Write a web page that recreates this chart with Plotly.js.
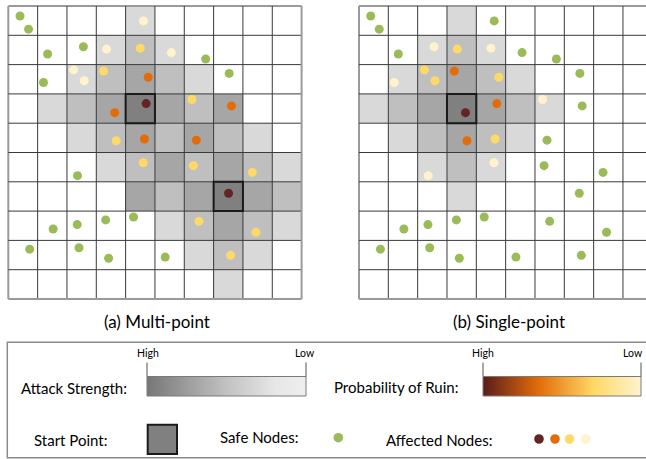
<!DOCTYPE html>
<html>
<head>
<meta charset="utf-8">
<script src="https://cdn.plot.ly/plotly-3.0.1.min.js"></script>
<style>html,body{margin:0;padding:0;background:#fff;}#chart{width:646px;height:459px;}</style>
</head>
<body>
<div id="chart"></div>
<script>
// ---------------- DATA ----------------
const GRID_N = 10;
// attack-strength level per cell (0 none, 1 low, 2 mid, 3 high, 4 start point), rows top->bottom
const shadeMulti = [
  [0,0,0,0,1,0,0,0,0,0],
  [0,0,0,1,2,1,0,0,0,0],
  [0,0,1,2,3,2,1,0,0,0],
  [0,1,2,3,4,3,2,3,0,0],
  [0,0,1,2,3,2,3,2,1,0],
  [0,0,0,1,2,3,2,3,2,1],
  [0,0,0,0,3,2,3,4,3,2],
  [0,0,0,0,0,1,2,3,2,1],
  [0,0,0,0,0,0,1,2,1,0],
  [0,0,0,0,0,0,0,1,0,0]
];
const shadeSingle = [
  [0,0,0,1,0,0,0,0,0,0],
  [0,0,1,2,1,0,0,0,0,0],
  [0,1,2,3,2,1,0,0,0,0],
  [1,2,3,4,3,2,1,0,0,0],
  [0,1,2,3,2,1,0,0,0,0],
  [0,0,1,2,1,0,0,0,0,0],
  [0,0,0,1,0,0,0,0,0,0],
  [0,0,0,0,0,0,0,0,0,0],
  [0,0,0,0,0,0,0,0,0,0],
  [0,0,0,0,0,0,0,0,0,0]
];
// start points [col, row]
const startMulti = [[4,3],[7,6]];
const startSingle = [[3,3]];
// node positions in grid units (same nodes in both panels)
const nodeX = [0.40,0.69,1.34,2.56,1.20,4.61,3.35,4.50,5.56,6.73,7.53,2.23,2.59,3.25,4.77,3.63,4.70,6.26,7.61,3.68,4.64,6.41,2.36,4.60,6.31,8.32,7.51,1.53,2.35,3.32,4.27,6.50,8.44,0.73,2.41,3.42,5.35,7.58];
const nodeY = [0.34,0.79,1.64,1.39,2.61,0.51,1.47,1.44,1.59,1.81,2.30,2.18,2.55,2.22,2.43,3.64,3.33,3.19,3.41,4.60,4.54,4.58,5.79,5.35,5.45,5.68,6.39,7.61,7.46,7.30,7.20,7.35,7.72,8.30,8.25,8.61,8.57,8.51];
// node status: 0 safe, 1..4 affected (probability of ruin high -> low)
const statusMulti  = [0,0,0,0,0,4,4,3,4,0,0,4,4,3,2,2,1,3,2,3,2,2,0,3,3,3,1,0,0,0,0,3,3,0,0,0,0,3];
const statusSingle = [0,0,0,4,4,0,3,4,0,0,0,3,3,2,3,1,2,4,0,2,3,0,4,4,0,0,0,0,0,0,0,0,0,0,0,0,0,0];
const panelTitles = ['(a) Multi-point', '(b) Single-point'];
const legendLabels = ['Attack Strength:', 'Probability of Ruin:', 'Start Point:', 'Safe Nodes:', 'Affected Nodes:'];
const scaleEnds = ['High', 'Low'];

// ---------------- STYLE ----------------
const W = 646, H = 459;
const px = x => x / W;
const py = y => 1 - y / H;
const shadeColors = ['#ffffff', '#d9d9d9', '#bfbfbf', '#a6a6a6', '#808080'];
const nodeColors = ['#9bbb59', '#632523', '#e36c09', '#ffd966', '#fff2cc'];
const FONT = 'Lato, "Open Sans", sans-serif';
const TXT = '#000000';

const cell = 29.33, pad = 0.1;
const leftX0 = 8.3, rightX0 = 359, gridY0 = 6, cellY = 29.3;

const shadeScale = shadeColors.map((c, i) => [i / 4, c]);

function gridTraces(shade, status, xa, ya) {
  return [
    {type: 'heatmap', z: shade, x0: 0.5, dx: 1, y0: 0.5, dy: 1, zmin: 0, zmax: 4,
     colorscale: shadeScale, showscale: false, hoverinfo: 'skip', xaxis: xa, yaxis: ya},
    {type: 'scatter', mode: 'markers', x: nodeX, y: nodeY, xaxis: xa, yaxis: ya,
     marker: {size: 9, color: status.map(s => nodeColors[s]), line: {width: 0}},
     hoverinfo: 'skip', showlegend: false}
  ];
}

function gridShapes(xr, yr, starts) {
  const s = [];
  for (let k = 0; k <= GRID_N; k++) {
    const outer = (k === 0 || k === GRID_N);
    const ln = outer ? {color: '#9a9a9a', width: 2} : {color: '#3a3a3a', width: 1};
    s.push({type: 'line', xref: xr, yref: yr, x0: k, x1: k, y0: 0, y1: GRID_N, line: ln, layer: 'above'});
    s.push({type: 'line', xref: xr, yref: yr, x0: 0, x1: GRID_N, y0: k, y1: k, line: ln, layer: 'above'});
  }
  starts.forEach(([c, r]) => {
    s.push({type: 'rect', xref: xr, yref: yr, x0: c, x1: c + 1, y0: r, y1: r + 1,
            line: {color: '#1a1a1a', width: 2}, layer: 'above'});
  });
  return s;
}

// gradient bars
const greyScale = [[0, '#777777'], [0.5, '#c2c2c2'], [0.8, '#e6e6e6'], [1, '#efefef']];
const ruinScale = [[0, '#5a1d1a'], [0.35, '#e36c09'], [0.7, '#ffd966'], [1, '#fff3d0']];
function barTrace(scale, xa, ya) {
  return {type: 'heatmap', z: [[0, 1], [0, 1]], x: [0, 1], y: [0, 1], zmin: 0, zmax: 1,
          zsmooth: 'best', colorscale: scale, showscale: false, hoverinfo: 'skip', xaxis: xa, yaxis: ya};
}

const data = [
  ...gridTraces(shadeMulti, statusMulti, 'x', 'y'),
  ...gridTraces(shadeSingle, statusSingle, 'x2', 'y2'),
  barTrace(greyScale, 'x3', 'y3'),
  barTrace(ruinScale, 'x4', 'y4')
];

const hidden = {visible: false, fixedrange: true};
const yDom = [py(gridY0 + 10 * cellY + pad * cellY), py(gridY0 - pad * cellY)];
const bar1 = {x0: 147, x1: 306, y0: 376.5, y1: 396};
const bar2 = {x0: 483, x1: 641, y0: 376.5, y1: 396};

const shapes = [
  ...gridShapes('x', 'y', startMulti),
  ...gridShapes('x2', 'y2', startSingle),
  // legend frame
  {type: 'rect', xref: 'paper', yref: 'paper', x0: px(7.3), x1: px(700), y0: py(457.7), y1: py(342.3),
   line: {color: '#8a8a8a', width: 1.5}},
  // bar frames
  {type: 'rect', xref: 'paper', yref: 'paper', x0: px(bar1.x0), x1: px(bar1.x1), y0: py(bar1.y1), y1: py(bar1.y0),
   line: {color: '#7a7a7a', width: 1}},
  {type: 'rect', xref: 'paper', yref: 'paper', x0: px(bar2.x0), x1: px(bar2.x1), y0: py(bar2.y1), y1: py(bar2.y0),
   line: {color: '#7a7a7a', width: 1}},
  // tick lines
  ...[bar1.x0, bar1.x1, bar2.x0, bar2.x1].map(x => ({type: 'line', xref: 'paper', yref: 'paper',
     x0: px(x), x1: px(x), y0: py(bar1.y0), y1: py(362.5), line: {color: '#555', width: 1}})),
  // start point symbol
  {type: 'rect', xref: 'paper', yref: 'paper', x0: px(147.7), x1: px(177), y0: py(454), y1: py(424.7),
   fillcolor: '#808080', line: {color: '#1a1a1a', width: 2}},
];
// legend node circles
const r = 4.8;
const legendDots = [[338.3, 437.7, nodeColors[0]], [539, 439, nodeColors[1]], [555, 439, nodeColors[2]],
                    [569.5, 439, nodeColors[3]], [585.7, 439, nodeColors[4]]];
legendDots.forEach(([cx, cy, c]) => shapes.push({type: 'circle', xref: 'paper', yref: 'paper',
  x0: px(cx - r), x1: px(cx + r), y0: py(cy + r), y1: py(cy - r), fillcolor: c, line: {width: 0}}));

function ann(text, x, y, size, xanchor) {
  return {text, x: px(x), y: py(y), xref: 'paper', yref: 'paper', showarrow: false,
          xanchor: xanchor || 'center', yanchor: 'middle', font: {family: FONT, size, color: TXT}};
}
const annotations = [
  ann(panelTitles[0], 157, 321, 17),
  ann(panelTitles[1], 508.5, 321, 17),
  ann(scaleEnds[0], 147.7, 352.5, 10.5),
  ann(scaleEnds[1], 305, 352.5, 10.5),
  ann(scaleEnds[0], 483, 352.5, 10.5),
  ann(scaleEnds[1], 645, 352.5, 10.5, 'right'),
  ann(legendLabels[0], 19, 388, 15, 'left'),
  ann(legendLabels[1], 332, 387, 15, 'left'),
  ann(legendLabels[2], 32, 440, 15, 'left'),
  ann(legendLabels[3], 218, 437, 15, 'left'),
  ann(legendLabels[4], 384, 439.5, 15, 'left'),
];

const layout = {
  width: W, height: H,
  margin: {l: 0, r: 0, t: 0, b: 0},
  paper_bgcolor: '#ffffff', plot_bgcolor: 'rgba(0,0,0,0)',
  showlegend: false,
  xaxis: Object.assign({}, hidden, {domain: [px(leftX0 - pad * cell), px(leftX0 + 10 * cell + pad * cell)], range: [-pad, 10 + pad], anchor: 'y'}),
  yaxis: Object.assign({}, hidden, {domain: yDom, range: [10 + pad, -pad], anchor: 'x'}),
  xaxis2: Object.assign({}, hidden, {domain: [px(rightX0 - pad * cell), 1], range: [-pad, (W - rightX0) / cell], anchor: 'y2'}),
  yaxis2: Object.assign({}, hidden, {domain: yDom, range: [10 + pad, -pad], anchor: 'x2'}),
  xaxis3: Object.assign({}, hidden, {domain: [px(bar1.x0), px(bar1.x1)], range: [0, 1], anchor: 'y3'}),
  yaxis3: Object.assign({}, hidden, {domain: [py(bar1.y1), py(bar1.y0)], range: [0, 1], anchor: 'x3'}),
  xaxis4: Object.assign({}, hidden, {domain: [px(bar2.x0), px(bar2.x1)], range: [0, 1], anchor: 'y4'}),
  yaxis4: Object.assign({}, hidden, {domain: [py(bar2.y1), py(bar2.y0)], range: [0, 1], anchor: 'x4'}),
  shapes, annotations
};

Plotly.newPlot('chart', data, layout, {staticPlot: true, displayModeBar: false});
</script>
</body>
</html>
